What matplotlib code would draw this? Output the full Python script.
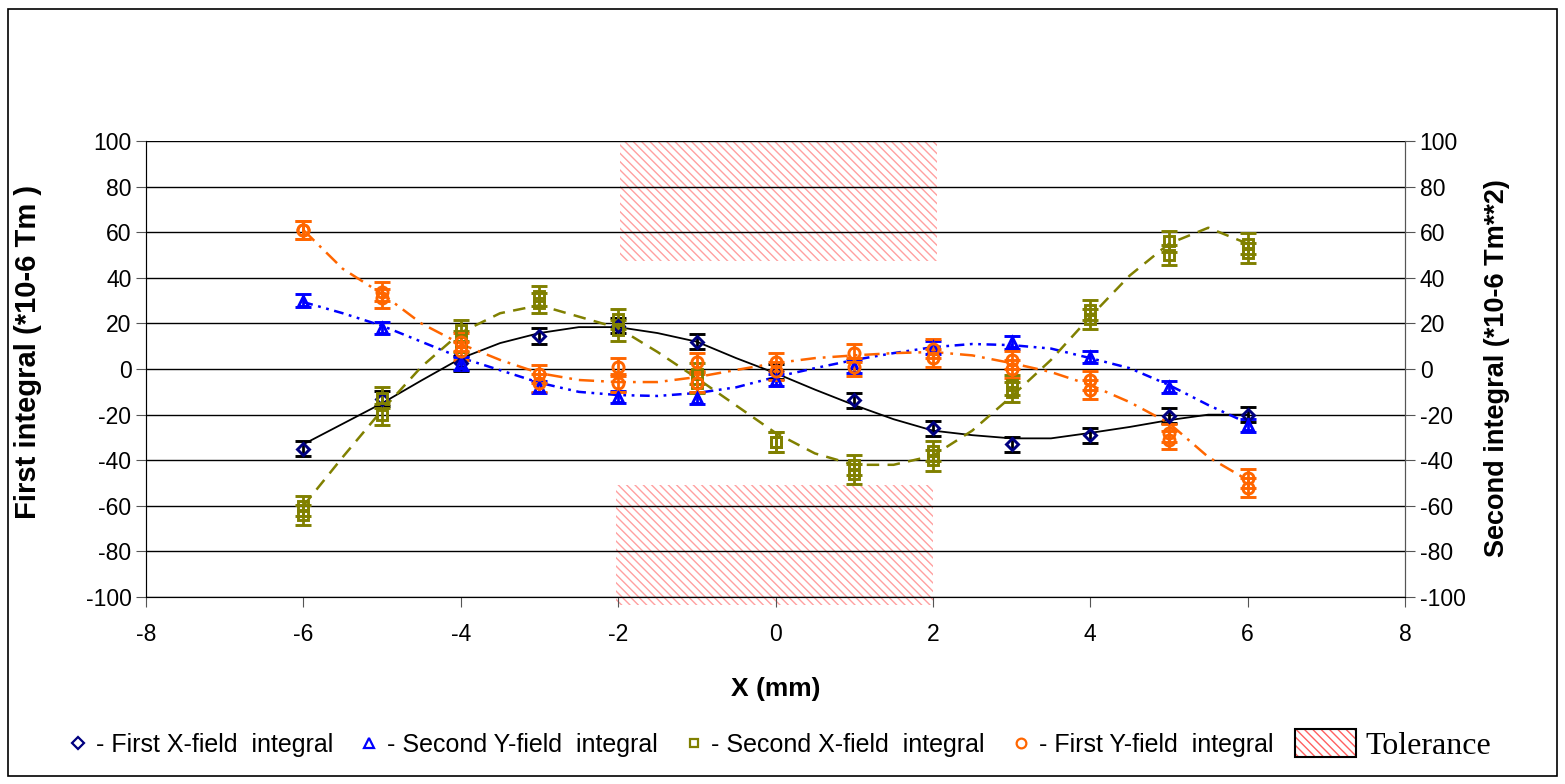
import matplotlib
matplotlib.use("Agg")
import matplotlib.pyplot as plt
from matplotlib.lines import Line2D
from matplotlib.patches import Patch, Rectangle
from matplotlib.legend_handler import HandlerTuple

plt.rcParams["font.family"] = ["Liberation Sans", "DejaVu Sans"]
plt.rcParams["axes.unicode_minus"] = False
plt.rcParams["lines.scale_dashes"] = False
plt.rcParams["hatch.linewidth"] = 1.0

# measured positions (mm)
pos = [-6, -5, -4, -3, -2, -1, 0, 1, 2, 3, 4, 5, 6]
first_x = [-35, -13, 2.5, 14.5, 19, 12, -1, -13.6, -26, -33, -29, -20.5, -20]
second_y = [30, 18, 2.6, -7.9, -12.3, -12.7, -4.8, 1, 9.6, 11.8, 5.3, -7.9, -24.6]
second_x_a = [-60, -12.5, 17, 32, 22, -2, -32, -42, -36, -7, 26, 56, 55]
second_x_b = [-64, -20, 12, 29, 17, -6, -32, -46, -40, -10, 22, 50, 51]
first_y_a = [61, 34, 12, -2, 1, 3, 3, 7, 9, 4, -5, -28, -48]
first_y_b = [61, 31, 8, -6, -6, -6, -1, 1, 5, 0, -9, -31, -52]

# trend lines every 0.5 mm
trend_x = [-6, -5.5, -5, -4.5, -4, -3.5, -3, -2.5, -2, -1.5, -1, -0.5, 0,
           0.5, 1, 1.5, 2, 2.5, 3, 3.5, 4, 4.5, 5, 5.5, 6]
trend_first_x = [-33, -24, -15, -5, 4.7, 11.4, 15.8, 18.4, 18.4, 15.8, 12, 4.8, -1.8,
                 -9, -15.8, -22, -27, -29, -30.4, -30.4, -28, -25.4, -22.4, -20, -20]
trend_second_y = [29.4, 24.5, 19, 12, 5, -0.5, -6, -10, -11.4, -11.8, -10.5, -8, -3.5,
                  0.4, 4, 7, 9.6, 11, 10.5, 9, 4.8, 0.4, -7, -15.8, -23.7]
trend_second_x = [-60, -38.6, -18, 1, 16, 24.5, 28, 23, 18, 7.5, -4, -16, -28,
                  -37, -42, -42, -38, -27, -12, 4, 23, 41, 55, 62, 55]
trend_first_y = [61, 44, 33, 20, 11, 4, -1.8, -4.8, -5.7, -5.7, -3.5, -0.4, 2.6,
                 4.8, 6, 7, 7.5, 6, 2.6, -1.3, -7, -14.5, -23.7, -38.6, -48.7]

# tolerance boxes (x0, x1, y0, y1)
tol_top = (-1.98, 2.05, 47.5, 100)
tol_bottom = (-2.03, 2.0, -103.5, -50.7)

NAVY = "#000080"
BLUE = "#0000ff"
OLIVE = "#808000"
ORANGE = "#ff6600"
HATCH = "#ffa0a0"
HATCH_PAT = "\\\\\\\\"

fig = plt.figure(figsize=(15.65, 7.84), dpi=100)
ax = fig.add_axes([0.0933, 0.2385, 0.8045, 0.5815])

for x0, x1, y0, y1 in (tol_top, tol_bottom):
    ax.add_patch(Rectangle((x0, y0), x1 - x0, y1 - y0, facecolor="white",
                           edgecolor=HATCH, hatch=HATCH_PAT, linewidth=0,
                           zorder=0.5, clip_on=False))

ax.plot(trend_x, trend_first_x, color="black", lw=1.3, zorder=3)
ax.plot(trend_x, trend_second_y, color=BLUE, lw=1.8, dashes=(7, 4, 2, 4, 2, 4), zorder=3)
ax.plot(trend_x, trend_second_x, color=OLIVE, lw=1.8, dashes=(9, 6), zorder=3)
ax.plot(trend_x, trend_first_y, color=ORANGE, lw=1.8, dashes=(11, 5, 2, 5), zorder=3)

eb = dict(linestyle="none", capsize=6, elinewidth=2.0, capthick=2.0,
          markerfacecolor="none", markeredgewidth=2.1, zorder=4)
ax.errorbar(pos, first_x, yerr=3.3, marker="D", markersize=6.5, color=NAVY,
            ecolor="black", **eb)
ax.errorbar(pos, second_y, yerr=2.8, marker="^", markersize=7.5, color=BLUE,
            ecolor=BLUE, **eb)
for vals in (second_x_a, second_x_b):
    ax.errorbar(pos, vals, yerr=4.5, marker="s", markersize=7, color=OLIVE,
                ecolor=OLIVE, **eb)
for vals in (first_y_a, first_y_b):
    ax.errorbar(pos, vals, yerr=4.0, marker="o", markersize=8, color=ORANGE,
                ecolor=ORANGE, **eb)

ax.set_xlim(-8, 8)
ax.set_ylim(-100, 100)
ax.set_xticks(range(-8, 9, 2))
ax.set_yticks(range(-100, 101, 20))
ax.yaxis.grid(True, color="black", lw=1.0)
ax.set_axisbelow(True)
ax.tick_params(labelsize=16.5, direction="out", length=7, color="#555555")
ax.tick_params(axis="x", pad=12)
for side in ("left", "right", "bottom"):
    ax.spines[side].set_color("#555555")
ax.spines["top"].set_visible(False)
ax.set_xlabel("X (mm)", fontsize=19, fontweight="bold", labelpad=22)

ax2 = ax.twinx()
ax2.set_ylim(-100, 100)
ax2.set_yticks(range(-100, 101, 20))
ax2.tick_params(labelsize=16.5, direction="out", length=7, color="#555555")
ax2.spines["top"].set_visible(False)
ax2.spines["right"].set_color("#555555")

# axis titles placed like the original
fig.text(28 / 1565, 1 - 352 / 784, "First integral (*10-6 Tm )", rotation=90,
         ha="center", va="center", fontsize=21, fontweight="bold")
fig.text(1497 / 1565, 1 - 368 / 784, "Second integral (*10-6 Tm**2)", rotation=90,
         ha="center", va="center", fontsize=19.5, fontweight="bold")

handles = [
    Line2D([], [], ls="none", marker="D", ms=6, mfc="none", mec=NAVY, mew=1.6),
    Line2D([], [], ls="none", marker="^", ms=7, mfc="none", mec=BLUE, mew=1.6),
    Line2D([], [], ls="none", marker="s", ms=6, mfc="none", mec=OLIVE, mew=1.6),
    Line2D([], [], ls="none", marker="o", ms=7, mfc="none", mec=ORANGE, mew=1.6),
]
labels = ["- First X-field  integral", "- Second Y-field  integral",
          "- Second X-field  integral", "- First Y-field  integral"]
fig.legend(handles, labels, loc="center", bbox_to_anchor=(0.429, 0.05), ncol=4,
           frameon=False, fontsize=18, handlelength=0.7, handletextpad=0.35,
           columnspacing=1.1)
tol_hatch = Patch(facecolor="white", edgecolor="#ff6060", hatch=HATCH_PAT, linewidth=0)
tol_frame = Patch(facecolor="none", edgecolor="black", linewidth=1.5)
fig.legend([(tol_hatch, tol_frame)], ["Tolerance"], loc="center",
           bbox_to_anchor=(0.89, 0.05), frameon=False,
           handler_map={tuple: HandlerTuple(ndivide=1, pad=0)},
           handlelength=1.9, handleheight=1.0, handletextpad=0.3,
           prop={"family": "Liberation Serif", "size": 23})

fig.patches.append(Rectangle((0.005, 0.01), 0.99, 0.978, transform=fig.transFigure,
                             fill=False, edgecolor="black", lw=1.2))

fig.savefig("out.png", dpi=100)
